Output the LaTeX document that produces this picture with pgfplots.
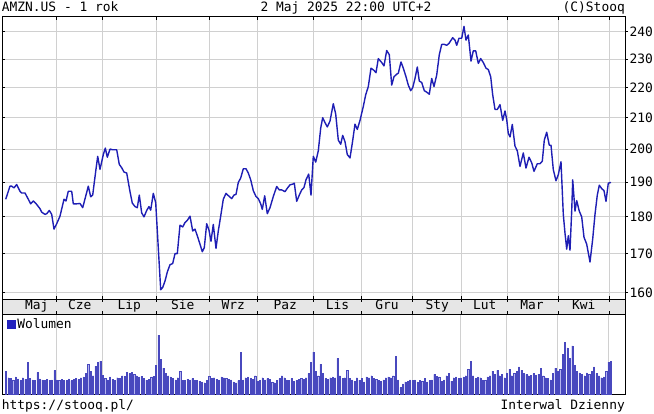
\documentclass[border=0pt]{standalone}
\usepackage{fontspec}
\setmainfont{DejaVu Sans Mono}
\usepackage{pgfplots}
\pgfplotsset{compat=1.18}
\definecolor{pline}{RGB}{30,30,180}
\definecolor{vfill}{RGB}{140,140,232}
\definecolor{vedge}{RGB}{72,72,190}
\definecolor{legc}{RGB}{35,35,190}
\definecolor{gridc}{RGB}{208,208,208}
\definecolor{stripc}{RGB}{230,230,230}
\begin{document}
\begin{tikzpicture}[font=\fontsize{12.9}{14}\selectfont]
\path[use as bounding box] (0,0) rectangle (654pt,414pt);
\pgfplotsset{
  common/.style={scale only axis, anchor=south west, width=623pt,
    axis line style={black, line width=0.9pt}, tick style={black, line width=0.8pt},
    major tick length=3pt},
}
% ---------- price panel ----------
\begin{axis}[common, at={(2pt,115pt)}, height=282.3pt,
  xmin=2, xmax=625, ymode=log, ymin=158.44, ymax=245.7,
  xtick={56.7,102.7,156,209.3,257.3,313.3,361.7,412.7,461.7,507.7,558.3,609.3},
  xticklabels={},
  ytick={160,170,180,190,200,210,220,230,240}, yticklabels={},
  tick align=inside, xtick pos=both, ytick pos=left,
  grid=major, major grid style={gridc, line width=0.9pt}]
\addplot[pline, line width=1.4pt, line join=round] table {
x y
5.7 185.0
10.0 188.8
11.7 188.8
14.0 188.3
16.7 189.3
18.3 188.3
20.0 187.3
21.7 186.8
25.0 186.8
28.3 185.0
30.7 183.7
33.3 184.5
36.7 183.5
40.0 182.3
41.7 181.3
45.0 180.7
46.7 180.9
49.3 181.8
51.7 180.7
54.0 176.6
56.7 178.1
60.0 180.2
64.0 185.0
66.0 184.5
68.3 187.3
71.7 187.3
73.3 183.7
76.7 183.7
80.0 183.8
82.7 182.6
86.0 186.2
88.3 188.8
90.7 185.7
92.7 186.2
95.7 193.2
97.7 197.8
100.0 193.8
103.3 198.3
105.3 200.3
107.3 197.5
110.0 200.0
112.7 199.8
116.7 199.8
119.3 195.3
121.7 194.3
124.0 193.0
126.7 192.7
130.0 187.2
132.3 183.9
135.0 182.9
137.3 182.6
139.3 186.2
141.7 181.1
144.0 180.0
146.7 181.8
149.0 182.9
150.7 181.9
153.3 186.7
155.7 184.0
160.7 160.7
162.7 161.3
165.0 162.9
167.3 165.2
170.0 167.1
172.7 167.4
175.0 170.0
177.3 170.0
180.0 177.7
182.7 177.2
185.0 178.4
187.3 179.0
190.0 180.2
192.7 176.1
195.0 176.6
197.3 174.8
200.0 172.5
202.3 170.5
204.3 171.6
206.7 178.1
209.0 176.3
211.0 173.3
213.3 177.9
216.0 171.4
218.3 176.1
220.7 180.2
223.3 185.0
226.0 186.7
229.3 185.8
231.7 185.2
234.0 186.2
236.0 186.4
238.3 189.9
240.7 191.2
243.3 194.0
246.0 194.0
248.3 192.7
250.7 190.7
253.3 187.5
256.0 185.8
258.3 185.2
260.7 183.7
262.3 182.1
264.7 186.0
267.3 180.9
270.0 182.6
273.3 185.8
276.7 188.7
279.3 187.7
281.7 187.7
285.0 187.2
287.3 188.2
290.0 189.2
292.7 189.4
294.3 189.7
296.7 184.4
299.3 186.2
301.7 187.7
304.0 188.4
306.0 190.7
308.7 192.4
311.0 186.2
313.3 197.8
315.7 196.0
318.3 199.5
320.7 206.6
322.7 210.0
325.0 208.4
327.3 207.0
330.0 208.9
333.3 214.6
335.7 211.2
338.3 202.8
340.7 201.5
342.7 204.3
345.0 202.3
347.3 198.3
350.0 197.3
352.3 201.8
355.0 207.9
357.3 206.2
360.0 209.1
363.3 213.7
365.7 217.6
368.3 220.4
371.0 226.8
374.0 226.0
376.0 225.2
378.3 230.2
381.7 228.8
384.0 227.6
386.7 233.1
389.3 231.6
391.7 220.9
394.0 223.8
396.7 224.7
398.3 225.0
401.0 229.0
403.3 226.8
406.0 223.8
408.3 220.9
410.7 219.0
412.7 220.0
415.0 223.2
417.3 227.2
419.3 222.3
421.7 221.8
424.3 219.0
426.7 218.5
429.3 217.8
431.7 223.2
434.0 220.4
436.7 224.4
439.3 231.6
441.7 235.3
444.0 235.4
446.7 235.0
449.0 235.7
452.7 237.8
455.0 236.9
456.7 235.0
459.0 237.6
461.7 237.6
464.0 242.0
466.0 236.9
468.3 238.8
471.0 229.3
473.3 233.0
475.7 233.0
478.3 228.5
480.7 230.2
483.3 228.8
486.0 226.8
488.3 226.3
490.7 223.8
492.7 217.6
495.0 212.7
497.3 212.7
500.0 214.3
502.7 209.1
505.0 212.2
506.7 209.4
508.3 204.9
510.0 203.8
512.3 207.8
515.0 200.9
517.3 199.5
520.0 194.7
523.3 198.8
526.0 194.2
529.0 197.5
531.7 195.8
534.0 193.2
537.3 195.5
540.0 195.5
542.3 196.3
544.3 202.8
546.7 205.3
549.3 201.2
551.0 201.2
553.3 193.7
556.0 190.4
558.3 192.2
561.0 196.1
563.3 180.7
565.0 175.5
566.7 171.2
568.3 174.8
570.0 170.9
571.7 181.6
572.7 190.7
575.0 181.6
576.7 184.6
579.3 181.6
581.7 180.0
584.0 174.4
586.7 172.5
590.0 167.8
592.7 173.9
595.0 180.7
597.3 186.2
599.3 189.1
601.7 188.1
604.0 187.5
606.0 184.4
608.3 189.7
611.0 189.9
};
\end{axis}
% ---------- right-hand price scale ----------
\begin{axis}[common, at={(2pt,115pt)}, height=282.3pt,
  xmin=2, xmax=625, ymode=log, ymin=158.44, ymax=245.7,
  axis x line=none, axis y line*=right, tick align=outside,
  ytick={160,170,180,190,200,210,220,230,240},
  yticklabels={160,170,180,190,200,210,220,230,240},
  yticklabel style={inner sep=0pt, anchor=west, xshift=1.5pt}]
\end{axis}
% ---------- month strip ----------
\begin{axis}[common, at={(2pt,100pt)}, height=15pt,
  xmin=2, xmax=625, ymin=0, ymax=1,
  xtick={56.7,102.7,156,209.3,257.3,313.3,361.7,412.7,461.7,507.7,558.3,609.3},
  xticklabels={}, ytick=\empty, tick align=inside, xtick pos=both,
  axis background/.style={fill=stripc}]
\begin{scope}[every node/.style={anchor=base, inner sep=0pt}]
\node at (axis cs:36.7,0.27) {Maj};
\node at (axis cs:79.7,0.27) {Cze};
\node at (axis cs:129.3,0.27) {Lip};
\node at (axis cs:182.7,0.27) {Sie};
\node at (axis cs:233.3,0.27) {Wrz};
\node at (axis cs:285.3,0.27) {Paz};
\node at (axis cs:337.5,0.27) {Lis};
\node at (axis cs:387.0,0.27) {Gru};
\node at (axis cs:437.2,0.27) {Sty};
\node at (axis cs:484.7,0.27) {Lut};
\node at (axis cs:532.0,0.27) {Mar};
\node at (axis cs:583.8,0.27) {Kwi};
\end{scope}
\end{axis}
% ---------- volume panel ----------
\begin{axis}[common, at={(2pt,19.7pt)}, height=80.3pt,
  xmin=-1.61, xmax=255.8, ymin=0, ymax=194,
  xtick={21,40,62,84,104,127,147,168,188,207,228,249},
  xticklabels={}, ytick=\empty, major tick length=0pt,
  xmajorgrids, major grid style={gridc, line width=0.9pt},
  legend style={at={(0.008,0.965)}, anchor=north west, draw=none, fill=none,
    inner sep=0pt, outer sep=0pt, font=\fontsize{12.9}{14}\selectfont,
    legend cell align=left},
  legend image code/.code={\fill[legc] (0pt,-4pt) rectangle (8pt,4pt);}]
\addplot[ybar, bar width=1.1pt, fill=vfill, draw=vedge, line width=0.3pt] coordinates {
(0,56)(1,40)(2,38)(3,35)(4,42)(5,37)(6,33)(7,40)(8,36)(9,78)(10,38)(11,35)(12,33)(13,53)(14,37)(15,35)(16,33)(17,36)(18,34)(19,35)(20,58)
(21,35)(22,33)(23,36)(24,34)(25,33)(26,37)(27,33)(28,36)(29,38)(30,36)(31,40)(32,42)(33,50)(34,73)(35,55)(36,45)(37,68)(38,78)(39,80)
(40,46)(41,38)(42,35)(43,42)(44,36)(45,34)(46,40)(47,38)(48,45)(49,44)(50,53)(51,50)(52,53)(53,48)(54,45)(55,42)(56,43)(57,38)(58,34)(59,36)(60,42)(61,44)
(62,70)(63,143)(64,85)(65,63)(66,50)(67,45)(68,42)(69,38)(70,35)(71,40)(72,56)(73,33)(74,34)(75,36)(76,35)(77,38)(78,33)(79,34)(80,32)(81,30)(82,28)(83,33)
(84,44)(85,38)(86,40)(87,36)(88,35)(89,42)(90,40)(91,38)(92,36)(93,35)(94,30)(95,28)(96,33)(97,102)(98,35)(99,40)(100,42)(101,38)(102,36)(103,45)
(104,32)(105,33)(106,40)(107,35)(108,38)(109,36)(110,30)(111,28)(112,33)(113,38)(114,45)(115,40)(116,35)(117,33)(118,38)(119,32)(120,34)(121,36)(122,38)(123,36)(124,40)(125,50)(126,78)
(127,102)(128,55)(129,45)(130,73)(131,50)(132,38)(133,36)(134,40)(135,42)(136,40)(137,87)(138,45)(139,38)(140,40)(141,58)(142,38)(143,35)(144,32)(145,40)(146,34)
(147,38)(148,30)(149,42)(150,40)(151,45)(152,38)(153,36)(154,34)(155,32)(156,35)(157,40)(158,42)(159,40)(160,45)(161,92)(162,35)(163,17)(164,25)(165,30)(166,32)(167,35)
(168,33)(169,35)(170,30)(171,33)(172,32)(173,38)(174,30)(175,33)(176,35)(177,48)(178,44)(179,42)(180,32)(181,35)(182,45)(183,51)(184,32)(185,40)(186,42)(187,38)
(188,40)(189,42)(190,45)(191,61)(192,80)(193,45)(194,38)(195,42)(196,40)(197,35)(198,33)(199,42)(200,45)(201,56)(202,48)(203,58)(204,45)(205,48)(206,40)
(207,52)(208,61)(209,45)(210,50)(211,55)(212,66)(213,58)(214,50)(215,48)(216,45)(217,46)(218,50)(219,47)(220,48)(221,63)(222,45)(223,40)(224,38)(225,35)(226,50)(227,63)
(228,55)(229,60)(230,97)(231,126)(232,112)(233,87)(234,117)(235,70)(236,55)(237,52)(238,48)(239,45)(240,52)(241,48)(242,55)(243,66)(244,50)(245,45)(246,40)(247,42)(248,55)(249,78)(250,80)
};
\addlegendentry{Wolumen}
\end{axis}
% ---------- header and footer texts ----------
\node[anchor=base west, inner sep=0pt] at (1.7pt,402pt) {AMZN.US - 1 rok};
\node[anchor=base, inner sep=0pt] at (346pt,402pt) {2 Maj 2025 22:00 UTC+2};
\node[anchor=base east, inner sep=0pt] at (625pt,402pt) {(C)Stooq};
\node[anchor=base west, inner sep=0pt] at (1.7pt,4.7pt) {https://stooq.pl/};
\node[anchor=base east, inner sep=0pt] at (625pt,4.7pt) {Interwal Dzienny};
\end{tikzpicture}
\end{document}
